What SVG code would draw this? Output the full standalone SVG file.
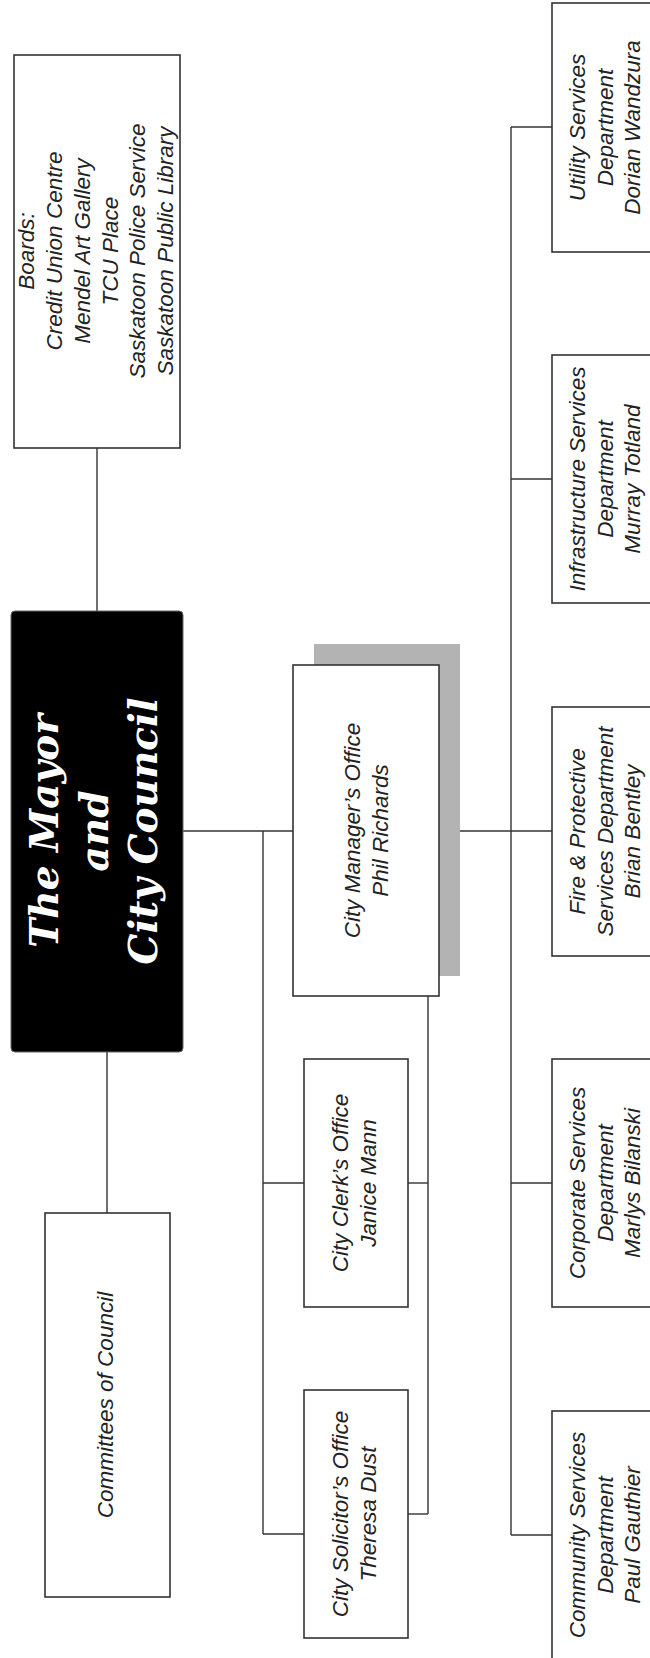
<svg xmlns="http://www.w3.org/2000/svg" width="650" height="1658" viewBox="0 0 650 1658">
<style>
.box{fill:#fff;stroke:#333;stroke-width:1.6}
.conn line{stroke:#333;stroke-width:1.4}
.t{font-family:"Liberation Sans",Arial,sans-serif;font-style:italic;font-size:22.5px;fill:#222;text-anchor:middle}
.mayor{font-family:"DejaVu Serif",serif;font-style:italic;font-weight:bold;font-size:39px;fill:#fff;text-anchor:middle}
</style>
<rect width="650" height="1658" fill="#fff"/>
<g class="conn" id="connectors">
<line x1="97" y1="448" x2="97" y2="611"/>
<line x1="107" y1="1052" x2="107" y2="1213"/>
<line x1="183" y1="831" x2="293" y2="831"/>
<line x1="439" y1="831" x2="552" y2="831"/>
<line x1="263" y1="831" x2="263" y2="1534"/>
<line x1="263" y1="1183" x2="304" y2="1183"/>
<line x1="263" y1="1534" x2="304" y2="1534"/>
<line x1="428" y1="996" x2="428" y2="1514"/>
<line x1="408" y1="1183" x2="428" y2="1183"/>
<line x1="408" y1="1514" x2="428" y2="1514"/>
<line x1="511" y1="127" x2="511" y2="1535"/>
<line x1="511" y1="127" x2="552" y2="127"/>
<line x1="511" y1="479" x2="552" y2="479"/>
<line x1="511" y1="1183" x2="552" y2="1183"/>
<line x1="511" y1="1535" x2="552" y2="1535"/>
</g>
<g id="boards">
<rect class="box" x="14" y="55" width="166" height="393"/>
<text class="t" transform="translate(34,251) rotate(-90)"><tspan x="0" y="0">Boards:</tspan><tspan x="0" y="28">Credit Union Centre</tspan><tspan x="0" y="56">Mendel Art Gallery</tspan><tspan x="0" y="83.5">TCU Place</tspan><tspan x="0" y="111">Saskatoon Police Service</tspan><tspan x="0" y="139">Saskatoon Public Library</tspan></text>
</g>
<g id="mayor">
<rect x="11" y="611" width="172" height="441" rx="4" fill="#000" stroke="#666" stroke-width="1"/>
<text class="mayor" transform="translate(58,831) rotate(-90)"><tspan x="0" y="0">The Mayor</tspan><tspan x="0" y="50">and</tspan><tspan x="0" y="99">City Council</tspan></text>
</g>
<g id="committees">
<rect class="box" x="45" y="1213" width="125" height="384"/>
<text class="t" transform="translate(113,1405) rotate(-90)">Committees of Council</text>
</g>
<g id="city-manager">
<rect x="314" y="644" width="146" height="332" fill="#b3b3b3"/>
<rect class="box" x="293" y="665" width="146" height="331"/>
<text class="t" transform="translate(360,830.5) rotate(-90)"><tspan x="0" y="0">City Manager’s Office</tspan><tspan x="0" y="28">Phil Richards</tspan></text>
</g>
<g id="city-clerk">
<rect class="box" x="304" y="1059" width="104" height="248"/>
<text class="t" transform="translate(348,1183) rotate(-90)"><tspan x="0" y="0">City Clerk’s Office</tspan><tspan x="0" y="28">Janice Mann</tspan></text>
</g>
<g id="city-solicitor">
<rect class="box" x="304" y="1390" width="104" height="248"/>
<text class="t" transform="translate(348,1514) rotate(-90)"><tspan x="0" y="0">City Solicitor’s Office</tspan><tspan x="0" y="28">Theresa Dust</tspan></text>
</g>
<g id="utility">
<rect class="box" x="552" y="3" width="120" height="249"/>
<text class="t" transform="translate(585,127.5) rotate(-90)"><tspan x="0" y="0">Utility Services</tspan><tspan x="0" y="27.5">Department</tspan><tspan x="0" y="55">Dorian Wandzura</tspan></text>
</g>
<g id="infrastructure">
<rect class="box" x="552" y="355" width="120" height="248"/>
<text class="t" transform="translate(585,479) rotate(-90)"><tspan x="0" y="0">Infrastructure Services</tspan><tspan x="0" y="27.5">Department</tspan><tspan x="0" y="55">Murray Totland</tspan></text>
</g>
<g id="fire">
<rect class="box" x="552" y="707" width="120" height="249"/>
<text class="t" transform="translate(585,831.5) rotate(-90)"><tspan x="0" y="0">Fire &amp; Protective</tspan><tspan x="0" y="27.5">Services Department</tspan><tspan x="0" y="55">Brian Bentley</tspan></text>
</g>
<g id="corporate">
<rect class="box" x="552" y="1059" width="120" height="248"/>
<text class="t" transform="translate(585,1183) rotate(-90)"><tspan x="0" y="0">Corporate Services</tspan><tspan x="0" y="27.5">Department</tspan><tspan x="0" y="55">Marlys Bilanski</tspan></text>
</g>
<g id="community">
<rect class="box" x="552" y="1411" width="120" height="249"/>
<text class="t" transform="translate(585,1535) rotate(-90)"><tspan x="0" y="0">Community Services</tspan><tspan x="0" y="27.5">Department</tspan><tspan x="0" y="55">Paul Gauthier</tspan></text>
</g>
</svg>
